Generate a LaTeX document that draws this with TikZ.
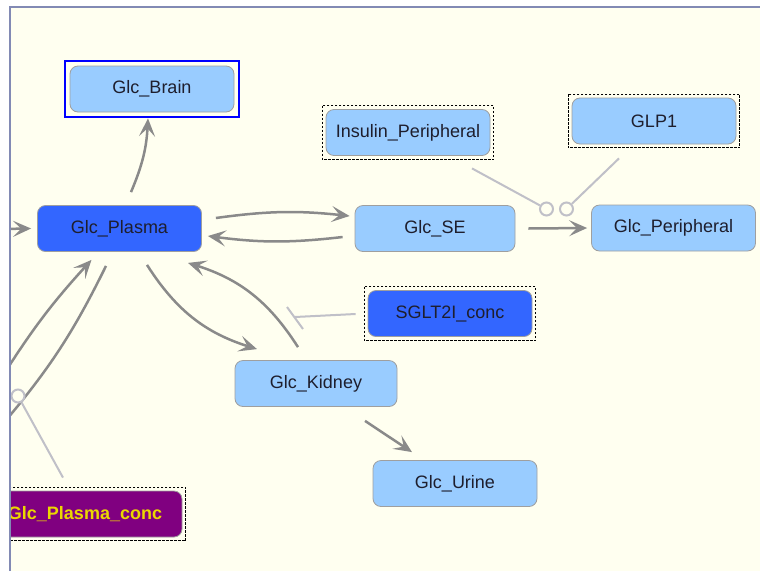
\documentclass[tikz,border=0pt]{standalone}
\usepackage{fontspec}
\setmainfont{Liberation Sans}
\usetikzlibrary{arrows.meta}
\definecolor{bgivory}{RGB}{255,255,240}
\definecolor{framegray}{RGB}{130,138,180}
\definecolor{specblue}{RGB}{153,204,255}
\definecolor{deepblue}{RGB}{51,102,255}
\definecolor{edgegray}{RGB}{138,138,138}
\definecolor{modgray}{RGB}{192,192,200}
\definecolor{concpurple}{RGB}{128,0,128}
\definecolor{concyellow}{RGB}{235,215,0}
\definecolor{txtdark}{RGB}{30,30,45}

\begin{document}
\begin{tikzpicture}[x=1pt, y=-1pt,
    species/.style={draw=gray!75, line width=0.8pt, rounded corners=8pt, fill=specblue,
        minimum width=164pt, minimum height=46pt, inner sep=0pt, text=txtdark,
        font=\fontsize{18}{21}\selectfont},
    rxn/.style={draw=edgegray, line width=2.5pt, -{Stealth[length=18pt, width=16pt, inset=8pt]}},
    rxnline/.style={draw=edgegray, line width=2.5pt},
    modline/.style={draw=modgray, line width=2pt},
    modcirc/.style={circle, draw=modgray, line width=2pt, fill=bgivory, minimum size=13pt, inner sep=0pt},
    dashbox/.style={draw=black, line width=0.9pt, dash pattern=on 2.5pt off 1.5pt},
    selframe/.style={draw=blue, line width=2pt}]
\useasboundingbox (0,0) rectangle (760,571);
\fill[white] (0,0) rectangle (760,571);
\fill[bgivory] (10,7) rectangle (760,571);

\begin{scope}
\clip (10,7) rectangle (760,571);

        % Define species
        \node[species] (brain) at (152,89) {Glc\_Brain};
        \node[species, fill=deepblue] (plasma) at (119.5,228.5) {Glc\_Plasma};
        \node[species] (insulin) at (408,132.5) {Insulin\_Peripheral};
        \node[species] (glp) at (654,121) {GLP1};
        \node[species, minimum width=160pt] (se) at (435,228.5) {Glc\_SE};
        \node[species] (periph) at (673.5,228) {Glc\_Peripheral};
        \node[species, fill=deepblue] (sglt) at (450,313.5) {SGLT2I\_conc};
        \node[species, minimum width=162pt] (kidney) at (316,383.5) {Glc\_Kidney};
        \node[species] (urine) at (455,483.5) {Glc\_Urine};
        \node[species, fill=concpurple, text=concyellow, minimum width=194pt,
            font=\fontsize{18}{21}\selectfont\bfseries] (pconc) at (85,514) {Glc\_Plasma\_conc};

        % Frames round selected and constant species
        \draw[selframe] ([shift={(-5,-5)}]brain.north west) rectangle ([shift={(5,5)}]brain.south east);
        \draw[dashbox] ([shift={(-3.5,-3.5)}]insulin.north west) rectangle ([shift={(3.5,3.5)}]insulin.south east);
        \draw[dashbox] ([shift={(-3.5,-3.5)}]glp.north west) rectangle ([shift={(3.5,3.5)}]glp.south east);
        \draw[dashbox] ([shift={(-3.5,-3.5)}]sglt.north west) rectangle ([shift={(3.5,3.5)}]sglt.south east);
        \draw[dashbox] ([shift={(-3.5,-3.5)}]pconc.north west) rectangle ([shift={(3.5,3.5)}]pconc.south east);

        % Free ends outside the frame
        \coordinate (inflow) at (0,229);
        \coordinate (srcA) at (2,377);
        \coordinate (sinkB) at (2,425);
        \coordinate (inhbar) at (295,317);

        % Draw grey reaction arrows
        \draw[rxn] ([shift={(11.5,-13)}]plasma.north) to[bend right=10] ([shift={(-4,6)}]brain.south);
        \draw[rxn] ([shift={(14,-10.5)}]plasma.east) to[bend left=7] ([shift={(-5,-12.5)}]se.west);
        \draw[rxn] ([shift={(-12,8.5)}]se.west) to[bend left=7] ([shift={(6,7.5)}]plasma.east);
        \draw[rxn] ([xshift=13]se.east) -- ([xshift=-4]periph.west);
        \draw[rxn] ([shift={(27.5,13)}]plasma.south) to[bend right=20] ([shift={(-59,-11)}]kidney.north);
        \draw[rxn] ([shift={(-18,-13)}]kidney.north) to[bend right=20] ([shift={(68.5,11)}]plasma.south);
        \draw[rxn] ([shift={(49,14)}]kidney.south) -- ([shift={(-43,-8)}]urine.north);
        \draw[rxn] (inflow) -- ([xshift=-6]plasma.west);
        \draw[rxn] (srcA) to[bend left=5] ([shift={(-28,8)}]plasma.south);
        \draw[rxnline] ([shift={(-13.5,14)}]plasma.south) to[bend left=7] (sinkB);

        % Modifier circles
        \node[modcirc] (m1) at (546.5,209) {};
        \node[modcirc] (m2) at (566.5,209) {};
        \node[modcirc] (m3) at (18,396) {};

        % Draw light modifier lines
        \draw[modline] ([shift={(64,12.5)}]insulin.south) -- (m1);
        \draw[modline] ([shift={(-35,14)}]glp.south) -- (m2);
        \draw[modline] ([shift={(-22,-13)}]pconc.north) -- (m3);
        \draw[modline] ([shift={(-12,0.5)}]sglt.west) -- (inhbar);
        \draw[modline] ([shift={(-8,-10)}]inhbar) -- ([shift={(8,12)}]inhbar);
\end{scope}

\draw[framegray, line width=2.5pt] (10,571) -- (10,7) -- (760,7);
\end{tikzpicture}
\end{document}
